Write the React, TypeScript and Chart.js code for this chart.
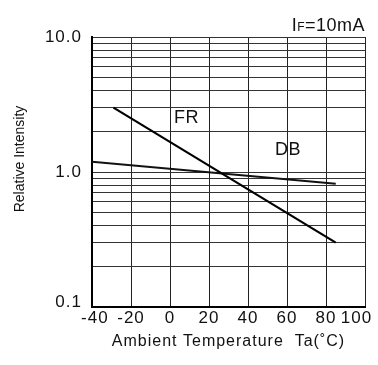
import React, { useEffect, useRef } from "react";
import { Chart, registerables } from "chart.js";

Chart.register(...registerables);

const xTicks = [-40, -20, 0, 20, 40, 60, 80, 100];
const xTickLabels = [" -40", "-20", "0", "20", "40", "60", "80", "100   "];
const yGrid = [0.1, 0.2, 0.3, 0.4, 0.5, 0.6, 0.7, 0.8, 0.9, 1, 2, 3, 4, 5, 6, 7, 8, 9, 10];
const yLabels: Record<string, string | string[]> = { "0.1": ["0.1", ""], "1": "1.0", "10": "10.0" };

const frTemp = [-29, 85];
const frIntensity = [3.0, 0.3];
const dbTemp = [-40, 85];
const dbIntensity = [1.19, 0.82];

const seriesLabels = [
  { text: "FR", x: 8.5, y: 2.5 },
  { text: "DB", x: 60.5, y: 1.45 },
];

const FONT = "'Liberation Sans', Arial, sans-serif";

export default function App() {
  const ref = useRef<HTMLCanvasElement>(null);
  useEffect(() => {
    if (!ref.current) return;
    const labelPlugin = {
      id: "labels",
      beforeUpdate(chart: any) {
        chart.ctx.letterSpacing = "1px";
      },
      beforeDraw(chart: any) {
        chart.ctx.letterSpacing = "1px";
      },
      afterDraw(chart: any) {
        const { ctx, chartArea, scales } = chart;
        ctx.save();
        ctx.fillStyle = "#111";
        ctx.textAlign = "center";
        ctx.textBaseline = "middle";
        ctx.letterSpacing = "0.5px";
        ctx.font = `18px ${FONT}`;
        for (const l of seriesLabels) {
          ctx.fillText(l.text, scales.x.getPixelForValue(l.x), scales.y.getPixelForValue(l.y));
        }
        // IF=10mA
        ctx.textBaseline = "alphabetic";
        ctx.textAlign = "left";
        ctx.font = `18px ${FONT}`;
        const rest = "=10mA";
        const wRest = ctx.measureText(rest).width;
        ctx.font = `12px ${FONT}`;
        const wF = ctx.measureText("F").width;
        ctx.font = `18px ${FONT}`;
        const wI = ctx.measureText("I").width;
        let x = chartArea.right - wRest - wF - wI;
        const base = chartArea.top - 6;
        ctx.fillText("I", x, base);
        x += wI;
        ctx.font = `12px ${FONT}`;
        ctx.fillText("F", x, base);
        x += wF;
        ctx.font = `18px ${FONT}`;
        ctx.fillText(rest, x, base);
        // y axis title
        ctx.letterSpacing = "0px";
        ctx.font = `14px ${FONT}`;
        ctx.textAlign = "center";
        ctx.textBaseline = "middle";
        ctx.translate(20, (chartArea.top + chartArea.bottom) / 2 - 13);
        ctx.rotate(-Math.PI / 2);
        ctx.fillText("Relative Intensity", 0, 0);
        ctx.restore();
      },
    };
    const chart = new Chart(ref.current, {
      type: "line",
      data: {
        datasets: [
          {
            label: "FR",
            data: frTemp.map((t, i) => ({ x: t, y: frIntensity[i] })),
            borderColor: "#000",
            borderWidth: 2.2,
            pointRadius: 0,
            fill: false,
          },
          {
            label: "DB",
            data: dbTemp.map((t, i) => ({ x: t, y: dbIntensity[i] })),
            borderColor: "#111",
            borderWidth: 2,
            pointRadius: 0,
            fill: false,
          },
        ],
      },
      options: {
        responsive: false,
        animation: false,
        layout: { padding: { top: 37, right: 13, left: 0, bottom: 0 } },
        plugins: { legend: { display: false }, tooltip: { enabled: false } },
        scales: {
          x: {
            type: "linear",
            min: -40,
            max: 100,
            afterBuildTicks: (s: any) => {
              s.ticks = xTicks.map((v) => ({ value: v }));
            },
            afterFit: (s: any) => {
              s.height = 58;
              s.paddingRight = 0;
              s.paddingLeft = 0;
            },
            grid: { color: "#222", lineWidth: 1, drawTicks: false },
            border: { color: "#000", width: 2 },
            ticks: {
              padding: 1,
              color: "#111",
              font: { family: FONT, size: 17 },
              maxRotation: 0,
              autoSkip: false,
              callback: (v: any) => {
                const i = xTicks.indexOf(Number(v));
                return i >= 0 ? xTickLabels[i] : "";
              },
            },
            title: {
              display: true,
              text: "Ambient Temperature  Ta(˚C)",
              color: "#111",
              font: { family: FONT, size: 16 },
              padding: { top: 0, bottom: 14 },
            },
          },
          y: {
            type: "logarithmic",
            min: 0.1,
            max: 10,
            afterBuildTicks: (s: any) => {
              s.ticks = yGrid.map((v) => ({ value: v }));
            },
            afterFit: (s: any) => {
              s.width = 92;
            },
            grid: { color: "#333", lineWidth: 1, drawTicks: false },
            border: { color: "#000", width: 2 },
            ticks: {
              padding: 10,
              color: "#111",
              autoSkip: false,
              font: { family: FONT, size: 17, lineHeight: 0.6 },
              callback: (v: any) => yLabels[String(v)] ?? "",
            },
          },
        },
      },
      plugins: [labelPlugin],
    });
    return () => chart.destroy();
  }, []);
  return (
    <div style={{ position: "fixed", left: 0, top: 0, width: 378, height: 365, background: "#fff" }}>
      <canvas ref={ref} width={378} height={365} />
    </div>
  );
}
